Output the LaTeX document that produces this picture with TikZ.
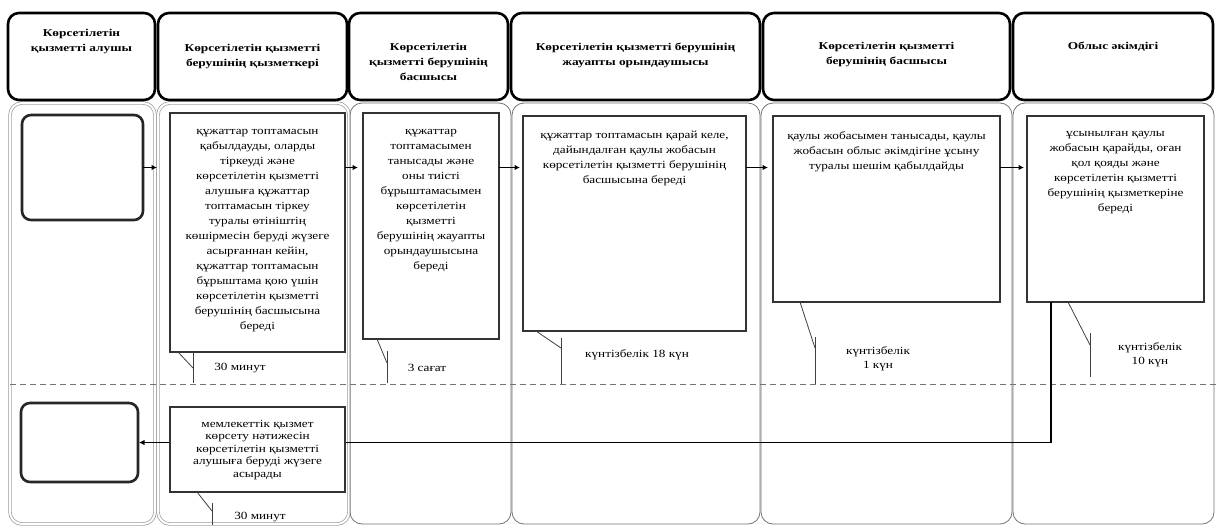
\documentclass[tikz,border=0pt]{standalone}
\usepackage{fontspec}
\setmainfont{Liberation Serif}
\newfontfamily\bodyf[FakeStretch=1.2]{Liberation Serif}
\newfontfamily\headf[FakeStretch=1.27]{Liberation Serif}
\usetikzlibrary{arrows.meta}
\tikzset{
  hdr/.style={draw=black, line width=2.6pt, rounded corners=11pt, inner sep=0pt, outer sep=0pt},
  lanes/.style={draw=black!55, line width=0.8pt, rounded corners=12pt},
  lanedbl/.style={draw=black!40, line width=0.7pt, double=white, double distance=2pt, rounded corners=12pt},
  rbox/.style={draw=black!85, line width=2.6pt, rounded corners=9pt, fill=white, inner sep=0pt, outer sep=0pt},
  sbox/.style={draw=black!80, line width=2pt, fill=white, inner sep=0pt, outer sep=0pt},
  arr/.style={line width=1.7pt, -{Latex[length=5.5pt,width=5.5pt]}},
  co/.style={draw=black!75, line width=0.8pt},
  dline/.style={draw=black!55, line width=1pt, dash pattern=on 6pt off 4pt},
  htext/.style={font=\headf\bfseries\fontsize{10.5}{15}\selectfont, align=center, inner sep=0pt, anchor=north},
  btext/.style={font=\bodyf\fontsize{11}{15}\selectfont, align=center, inner sep=0pt, anchor=north},
  ltext/.style={font=\bodyf\fontsize{11}{14}\selectfont, align=center, inner sep=0pt}
}
\begin{document}
\begin{tikzpicture}[x=1pt,y=-1pt]
\useasboundingbox[fill=white] (0,0) rectangle (1217,525);

% lanes
\draw[lanedbl] (10,103) rectangle (155,524);
\draw[lanedbl] (158,103) rectangle (349,524);
\draw[lanes] (350,103) rectangle (511,524);
\draw[lanes] (512,103) rectangle (760,524);
\draw[lanes] (761,103) rectangle (1012,524);
\draw[lanes] (1013,103) rectangle (1214,524);

% dashed separator
\draw[dline] (10,384) -- (1217,384);

% headers
\node[hdr, minimum width=147pt, minimum height=87pt] (H1) at (81.5,56.5) {};
\node[hdr, minimum width=189pt, minimum height=87pt] (H2) at (252.5,56.5) {};
\node[hdr, minimum width=159pt, minimum height=87pt] (H3) at (428.5,56.5) {};
\node[hdr, minimum width=249pt, minimum height=87pt] (H4) at (635.5,56.5) {};
\node[hdr, minimum width=247pt, minimum height=87pt] (H5) at (886.5,56.5) {};
\node[hdr, minimum width=200pt, minimum height=87pt] (H6) at (1113,56.5) {};

\node[htext] (H1t) at (81.5,29) {Көрсетілетін\\қызметті алушы};
\node[htext] (H2t) at (252.5,44) {Көрсетілетін қызметті\\берушінің қызметкері};
\node[htext] (H3t) at (428.5,43) {Көрсетілетін\\қызметті берушінің\\басшысы};
\node[htext] (H4t) at (635.5,43) {Көрсетілетін қызметті берушінің\\жауапты орындаушысы};
\node[htext] (H5t) at (886.5,42) {Көрсетілетін қызметті\\берушінің басшысы};
\node[htext] (H6t) at (1113,42) {Облыс әкімдігі};

% boxes
\node[rbox, minimum width=121pt, minimum height=105pt] (R1) at (82.5,167.5) {};
\node[sbox, minimum width=175pt, minimum height=239pt] (B2) at (257.5,232.5) {};
\node[sbox, minimum width=136pt, minimum height=226pt] (B3) at (431,226) {};
\node[sbox, minimum width=223pt, minimum height=215pt] (B4) at (634.5,223.5) {};
\node[sbox, minimum width=227pt, minimum height=186pt] (B5) at (886.5,209) {};
\node[sbox, minimum width=177pt, minimum height=186pt] (B6) at (1115.5,209) {};
\node[rbox, minimum width=117pt, minimum height=79pt] (R2) at (79.5,442.5) {};

% connectors (top row)
\draw[arr, shorten >=13pt] (R1.east) -- (R1.east -| B2.west);
\draw[arr, shorten >=5pt] (B2.east |- R1.east) -- (B3.west |- R1.east);
\draw[arr, shorten >=3pt] (B3.east |- R1.east) -- (B4.west |- R1.east);
\draw[arr, shorten >=5pt] (B4.east |- R1.east) -- (B5.west |- R1.east);
\draw[arr, shorten >=3pt] (B5.east |- R1.east) -- (B6.west |- R1.east);

% return path
\coordinate (dn) at ([xshift=24pt]B6.south west);
\draw[arr, shorten >=1pt] (dn) |- (R2.east);
\node[sbox, minimum width=175pt, minimum height=85pt] (B7) at (257.5,449.5) {};

% box texts
\node[btext] (B2t) at (257.5,129) {құжаттар топтамасын\\қабылдауды, оларды\\тіркеуді және\\көрсетілетін қызметті\\алушыға құжаттар\\топтамасын тіркеу\\туралы өтініштің\\көшірмесін беруді жүзеге\\асырғаннан кейін,\\құжаттар топтамасын\\бұрыштама қою үшін\\көрсетілетін қызметті\\берушінің басшысына\\береді};
\node[btext] (B3t) at (431,129) {құжаттар\\топтамасымен\\танысады және\\оны тиісті\\бұрыштамасымен\\көрсетілетін\\қызметті\\берушінің жауапты\\орындаушысына\\береді};
\node[btext] (B4t) at (634.5,131) {құжаттар топтамасын қарай келе,\\дайындалған қаулы жобасын\\көрсетілетін қызметті берушінің\\басшысына береді};
\node[btext] (B5t) at (886.5,131) {қаулы жобасымен танысады, қаулы\\жобасын облыс әкімдігіне ұсыну\\туралы шешім қабылдайды};
\node[btext] (B6t) at (1115.5,131) {ұсынылған қаулы\\жобасын қарайды, оған\\қол қояды және\\көрсетілетін қызметті\\берушінің қызметкеріне\\береді};
\node[btext, font=\bodyf\fontsize{11}{12.5}\selectfont] (B7t) at (257.5,420) {мемлекеттік қызмет\\көрсету нәтижесін\\көрсетілетін қызметті\\алушыға беруді жүзеге\\асырады};

% callouts
\draw[co] ([xshift=8pt]B2.south west) -- ++(15,16);
\draw[co] ([xshift=23pt]B2.south west) -- ++(0,31);
\draw[co] ([xshift=14pt]B3.south west) -- ++(10,24);
\draw[co] ([xshift=24pt,yshift=-12pt]B3.south west) -- ++(0,32);
\draw[co] ([xshift=13pt]B4.south west) -- ++(25,17);
\draw[co] ([xshift=38pt,yshift=-7pt]B4.south west) -- ++(0,46);
\draw[co] ([xshift=27pt]B5.south west) -- ++(15,46);
\draw[co] ([xshift=42pt,yshift=-35pt]B5.south west) -- ++(0,47);
\draw[co] ([xshift=41pt]B6.south west) -- ++(22,43);
\draw[co] ([xshift=63pt,yshift=-31pt]B6.south west) -- ++(0,44);
\draw[co] ([xshift=27pt]B7.south west) -- ++(15,19);
\draw[co] ([xshift=42pt,yshift=-11pt]B7.south west) -- ++(0,22);

\node[ltext] (T2) at (240,368) {30 минут};
\node[ltext] (T3) at (427,368) {3 сағат};
\node[ltext] (T4) at (637,355) {күнтізбелік 18 күн};
\node[ltext] (T5) at (878,359) {күнтізбелік\\1 күн};
\node[ltext] (T6) at (1150,355) {күнтізбелік\\10 күн};
\node[ltext] (T7) at (260,517) {30 минут};
\end{tikzpicture}
\end{document}
